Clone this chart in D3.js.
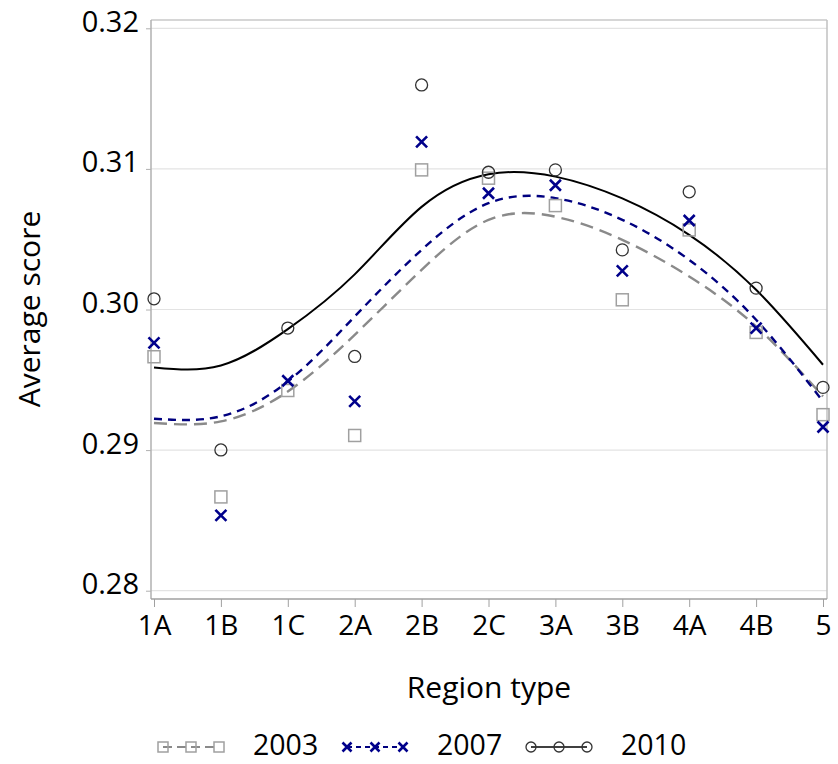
<!DOCTYPE html>
<html>
<head>
<meta charset="utf-8">
<script src="https://cdn.jsdelivr.net/npm/d3@7/dist/d3.min.js"></script>
<style>
  html, body { margin: 0; padding: 0; background: #fff; }
  svg { display: block; }
  text { font-family: "Open Sans", "Noto Sans", sans-serif; fill: #000; }
</style>
</head>
<body>
<svg id="chart" width="838" height="764"></svg>
<script>
// ---- data ----
const categories = ["1A","1B","1C","2A","2B","2C","3A","3B","4A","4B","5"];
const values2003 = [0.29664,0.28667,0.29424,0.29104,0.30993,0.30934,0.30739,0.30069,0.30566,0.29837,0.29252];
const values2007 = [0.29763,0.28536,0.29493,0.29346,0.31192,0.30827,0.30884,0.30275,0.30633,0.29868,0.29164];
const values2010 = [0.30076,0.29001,0.29868,0.29666,0.31597,0.30976,0.30993,0.30424,0.30837,0.30152,0.29446];
// fitted trend curves
const fit2003 = [0.29193,0.29204,0.29417,0.29820,0.30282,0.30637,0.30660,0.30495,0.30235,0.29879,0.29382];
const fit2007 = [0.29223,0.29240,0.29488,0.29950,0.30424,0.30756,0.30792,0.30638,0.30353,0.29927,0.29346];
const fit2010 = [0.29588,0.29602,0.29860,0.30250,0.30730,0.30962,0.30945,0.30790,0.30531,0.30140,0.29607];
const yTicks = [0.28,0.29,0.30,0.31,0.32];
const seriesNames = ["2003","2007","2010"];

// ---- layout ----
const svg = d3.select("#chart");
const frame = {left:151, right:827, top:20, bottom:599};
const x = d3.scalePoint().domain(categories).range([154, 823]);
const y = d3.scaleLinear().domain([0.28, 0.32]).range([590.7, 28.3]);

// gridlines
svg.append("g").selectAll("line").data(yTicks).join("line")
  .attr("x1", frame.left).attr("x2", frame.right)
  .attr("y1", d => y(d)).attr("y2", d => y(d))
  .attr("stroke", "#e3e3e3").attr("stroke-width", 1.2);

// frame (top, right)
svg.append("line").attr("x1", frame.left).attr("x2", frame.right)
  .attr("y1", frame.top).attr("y2", frame.top).attr("stroke", "#c8c8c8").attr("stroke-width", 1.3);
svg.append("line").attr("x1", frame.right).attr("x2", frame.right)
  .attr("y1", frame.top).attr("y2", frame.bottom).attr("stroke", "#c0c0c0").attr("stroke-width", 1.5);

// y axis
const yAxis = d3.axisLeft(y).tickValues(yTicks).tickFormat(d3.format(".2f")).tickSize(5).tickPadding(7);
const gy = svg.append("g").attr("transform", `translate(${frame.left},0)`).call(yAxis);
gy.select(".domain").attr("d", `M0,${frame.top}V${frame.bottom}`).attr("stroke", "#b0b0b0").attr("stroke-width", 1.5);
gy.selectAll(".tick line").attr("stroke", "#b0b0b0");
gy.selectAll(".tick text").attr("font-size", 29).attr("dy", "0.1em")
  .style("font-family", '"Open Sans", sans-serif').attr("fill", "#000");

// x axis
const xAxis = d3.axisBottom(x).tickSize(8).tickPadding(8);
const gx = svg.append("g").attr("transform", `translate(0,${frame.bottom})`).call(xAxis);
gx.select(".domain").attr("d", `M${frame.left},0H${frame.right}`).attr("stroke", "#a0a0a0").attr("stroke-width", 1.5);
gx.selectAll(".tick line").attr("stroke", "#a0a0a0");
gx.selectAll(".tick text").attr("font-size", 28).attr("fill", "#000")
  .style("font-family", '"Open Sans", sans-serif');

// axis titles
svg.append("text").attr("x", 489).attr("y", 698).attr("text-anchor", "middle")
  .attr("font-size", 30).text("Region type");
svg.append("text").attr("transform", "translate(40,309) rotate(-90)").attr("text-anchor", "middle")
  .attr("font-size", 30).text("Average score");

// styles
const styles = {
  "2003": {color:"#8a8a8a", dash:"13,7", width:2.4, marker:"square", mcolor:"#a0a0a0"},
  "2007": {color:"#00007f", dash:"8,6", width:2.4, marker:"x", mcolor:"#00008b"},
  "2010": {color:"#000000", dash:null, width:2, marker:"circle", mcolor:"#333333"}
};
const fits = {"2003": fit2003, "2007": fit2007, "2010": fit2010};
const vals = {"2003": values2003, "2007": values2007, "2010": values2010};

function drawMarker(g, type, cx, cy, size, color) {
  if (type === "square") {
    g.append("rect").attr("x", cx - size/2).attr("y", cy - size/2)
      .attr("width", size).attr("height", size)
      .attr("fill", "#fff").attr("fill-opacity", 0).attr("stroke", color).attr("stroke-width", 1.5);
  } else if (type === "circle") {
    g.append("circle").attr("cx", cx).attr("cy", cy).attr("r", size/2)
      .attr("fill", "none").attr("stroke", color).attr("stroke-width", 1.3);
  } else {
    const h = size/2;
    g.append("path").attr("d", `M${cx-h},${cy-h}L${cx+h},${cy+h}M${cx-h},${cy+h}L${cx+h},${cy-h}`)
      .attr("stroke", color).attr("stroke-width", 2.6).attr("fill", "none");
  }
}

// curves
const line = d3.line().x((d, i) => x(categories[i])).y(d => y(d)).curve(d3.curveNatural);
["2003","2007","2010"].forEach(s => {
  const st = styles[s];
  svg.append("path").datum(fits[s]).attr("d", line)
    .attr("fill", "none").attr("stroke", st.color).attr("stroke-width", st.width)
    .attr("stroke-dasharray", st.dash);
});

// points
["2003","2007","2010"].forEach(s => {
  const st = styles[s];
  const g = svg.append("g");
  vals[s].forEach((v, i) => drawMarker(g, st.marker, x(categories[i]), y(v), st.marker === "circle" ? 12 : (st.marker === "x" ? 11 : 12), st.mcolor));
});

// legend
const legendY = 747;
seriesNames.forEach((s, k) => {
  const st = styles[s];
  const x0 = 163 + k * 184;
  const g = svg.append("g");
  g.append("line").attr("x1", x0).attr("x2", x0 + 56).attr("y1", legendY).attr("y2", legendY)
    .attr("stroke", st.color).attr("stroke-width", st.width - 0.4)
    .attr("stroke-dasharray", st.dash ? (s === "2003" ? "9,5" : "5,4") : null);
  [0, 28, 56].forEach(dx => drawMarker(g, st.marker, x0 + dx, legendY, st.marker === "x" ? 9 : 10, st.mcolor));
  g.append("text").attr("x", x0 + 90).attr("y", legendY + 8).attr("font-size", 28.5).text(s);
});
</script>
</body>
</html>
